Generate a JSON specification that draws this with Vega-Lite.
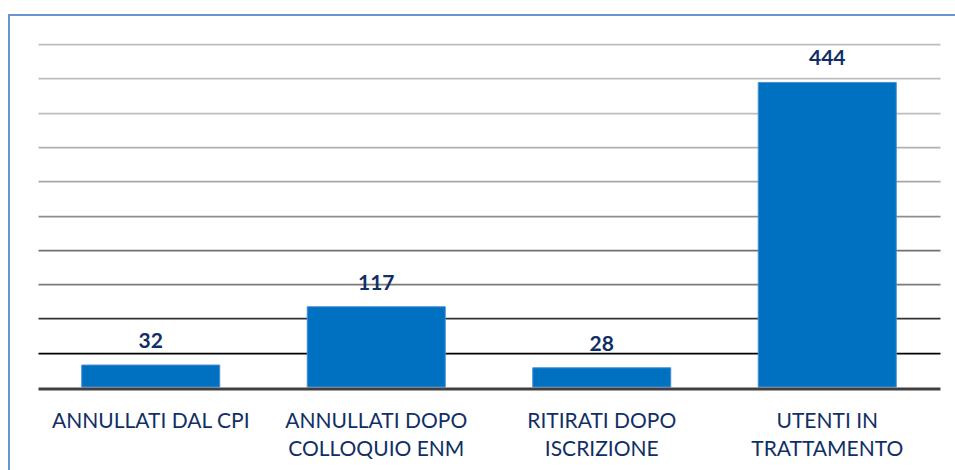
{
  "$schema": "https://vega.github.io/schema/vega-lite/v6.json",
  "width": 946,
  "height": 455,
  "autosize": {"type": "none"},
  "padding": {"left": 9, "top": 15, "right": 0, "bottom": 0},
  "background": "#ffffff",
  "config": {
    "font": "Lato",
    "view": {"stroke": "#6a93d3", "strokeWidth": 2, "strokeDash": [946, 1401, 455]}
  },
  "data": {
    "values": [
      {"categoria": "ANNULLATI DAL CPI", "valore": 32},
      {"categoria": "ANNULLATI DOPO COLLOQUIO ENM", "valore": 117},
      {"categoria": "RITIRATI DOPO ISCRIZIONE", "valore": 28},
      {"categoria": "UTENTI IN TRATTAMENTO", "valore": 444}
    ]
  },
  "encoding": {
    "x": {
      "field": "categoria",
      "type": "nominal",
      "sort": null,
      "scale": {"range": [29, 931], "paddingInner": 0.388, "paddingOuter": 0.194},
      "axis": {
        "title": null,
        "offset": -81.5,
        "zindex": 1,
        "domainColor": "#404040",
        "domainWidth": 3,
        "ticks": false,
        "tickSize": 0,
        "labelPadding": 22,
        "labelFont": "Lato",
        "labelFontSize": 21,
        "labelColor": "#112f66",
        "labelAngle": 0,
        "labelLineHeight": 28,
        "labelLimit": 400,
        "labelOverlap": false,
        "labelBound": false,
        "labelExpr": "split(replace(replace(datum.label, 'DOPO ', 'DOPO|'), 'IN ', 'IN|'), '|')"
      }
    },
    "y": {
      "field": "valore",
      "type": "quantitative",
      "scale": {"domain": [0, 500], "range": [372, 29]},
      "axis": {
        "title": null,
        "labels": false,
        "ticks": false,
        "domain": false,
        "grid": true,
        "values": [50, 100, 150, 200, 250, 300, 350, 400, 450, 500],
        "gridWidth": 1.75,
        "gridColor": {
          "condition": [
            {"test": "datum.value <= 50", "value": "#000000"},
            {"test": "datum.value <= 100", "value": "#333333"},
            {"test": "datum.value <= 150", "value": "#7a7a7a"},
            {"test": "datum.value <= 200", "value": "#707070"},
            {"test": "datum.value <= 250", "value": "#8e8e8e"},
            {"test": "datum.value <= 300", "value": "#a6a6a6"},
            {"test": "datum.value <= 350", "value": "#b0b0b0"}
          ],
          "value": "#bdbdbd"
        }
      }
    }
  },
  "layer": [
    {"mark": {"type": "bar", "color": "#0070C0", "stroke": "#4a8ed6", "strokeWidth": 1}},
    {
      "mark": {"type": "text", "baseline": "alphabetic", "align": "center", "dy": -17, "font": "Lato", "fontSize": 21, "fontWeight": "bold", "color": "#112f66"},
      "encoding": {"text": {"field": "valore", "type": "quantitative"}}
    }
  ]
}
